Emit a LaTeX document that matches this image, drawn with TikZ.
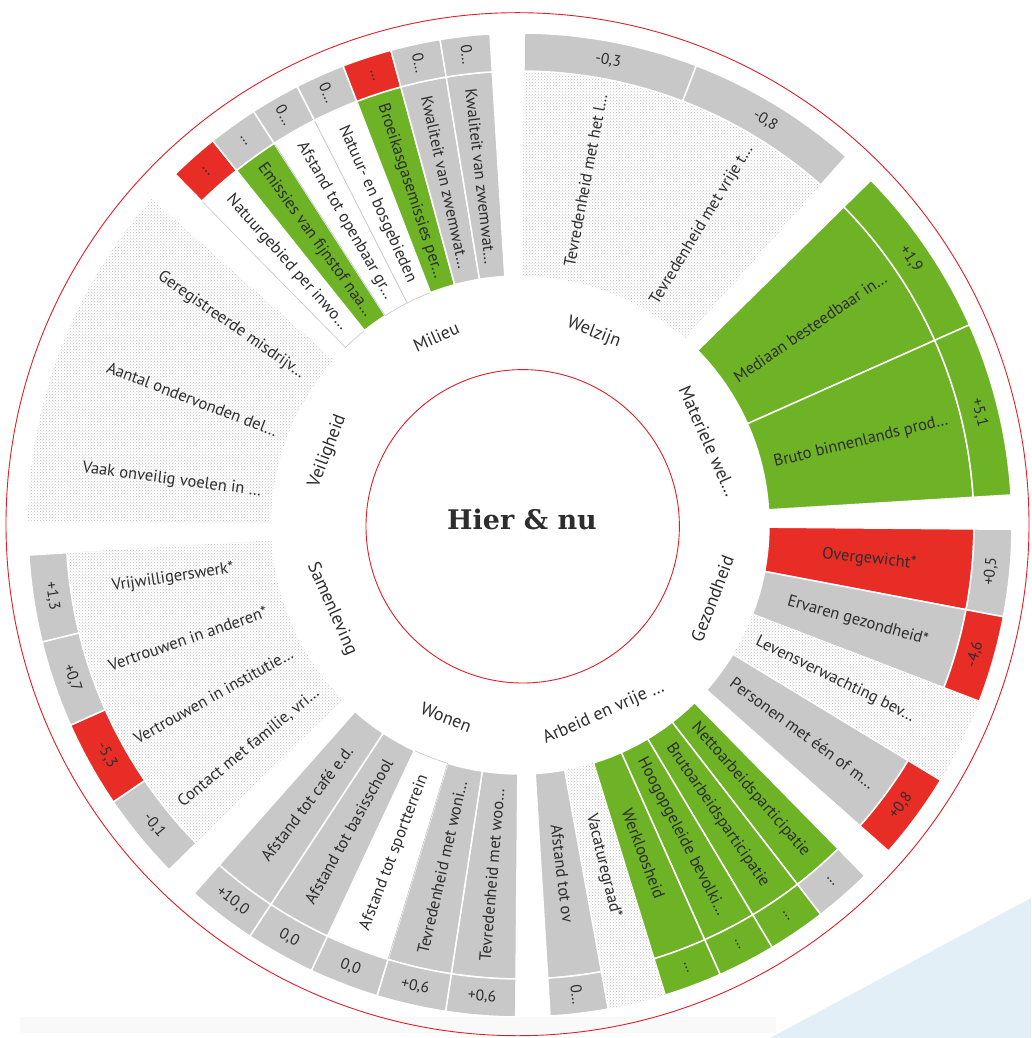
\documentclass[tikz,border=0pt]{standalone}
\usepackage{fontspec}
\setmainfont{PT Sans}
\newfontfamily\titlefont{DejaVu Serif}
\usetikzlibrary{patterns}

\definecolor{cbsgreen}{RGB}{110,178,38}
\definecolor{cbsred}{RGB}{232,45,38}
\definecolor{cbsgrey}{RGB}{200,200,200}
\definecolor{inktext}{RGB}{45,45,45}
\definecolor{ringred}{RGB}{222,30,40}
\definecolor{paleblue}{RGB}{226,239,246}

% piece of a ring: start angle, end angle, inner radius, outer radius
\newcommand\ringpart[4]{(#1:#3pt) arc[start angle=#1, end angle=#2, radius=#3pt]
  -- (#2:#4pt) arc[start angle=#2, end angle=#1, radius=#4pt] -- cycle}

% one theme: key, start angle, bars, name, radial values (1) or not (0), bar list
\newcommand\drawtheme[6]{%
  \pgfmathsetmacro\tw{41/#3}
  \pgfmathsetmacro\tm{#2-20.5}
  \pgfmathsetmacro\tr{sin(\tm)>=0 ? \tm-90 : \tm+90}
  \node[themelabel, rotate=\tr] (#1) at (\tm:206pt) {#4};
  \foreach [count=\i] \bs/\vs/\lab/\val in {#6} {
    \pgfmathsetmacro\aa{#2-(\i-1)*\tw}
    \pgfmathsetmacro\ab{#2-\i*\tw}
    \pgfmathsetmacro\am{(\aa+\ab)/2}
    \pgfmathsetmacro\rl{cos(\am)>=0 ? \am : \am+180}
    \pgfmathsetmacro\rv{#5==1 ? \rl : (sin(\am)>=0 ? \am-90 : \am+90)}
    \path[\bs] \ringpart{\aa}{\ab}{249}{454};
    \path[\vs] \ringpart{\aa}{\ab}{454}{492};
    \node[barlabel, rotate=\rl] (#1-\i) at (\am:351pt) {\lab};
    \node[vallabel, rotate=\rv] (#1-\i-v) at (\am:473pt) {\val};
  }%
}

\begin{document}
\begin{tikzpicture}[x=1pt,y=1pt,
    good/.style={fill=cbsgreen,draw=white,line width=1.5pt},
    bad/.style={fill=cbsred,draw=white,line width=1.5pt},
    neutral/.style={fill=cbsgrey,draw=white,line width=1.5pt},
    blank/.style={fill=white,draw=gray!45,line width=.6pt},
    nodata/.style={pattern=crosshatch dots,pattern color=gray!50},
    barlabel/.style={text=inktext,font=\fontsize{16.5}{19}\selectfont,inner sep=0pt},
    vallabel/.style={text=inktext,font=\fontsize{15.5}{18}\selectfont,inner sep=0pt},
    themelabel/.style={text=inktext,font=\fontsize{18}{21}\selectfont,inner sep=0pt},
    redring/.style={draw=ringred,line width=.9pt}]

  \useasboundingbox (-520,-513) rectangle (511,525);
  \fill[gray!5] (-500,-492) rectangle (256,-508);
  \fill[paleblue] (250,-513) -- (511,-373) -- (511,-513) -- cycle;

  \drawtheme{wel}{89.5}{2}{Welzijn}{0}{
    nodata/neutral/Tevredenheid met het l…/{-0,3},
    nodata/neutral/Tevredenheid met vrije t…/{-0,8}}
  \drawtheme{mat}{44.5}{2}{Materiele wel…}{0}{
    good/good/Mediaan besteedbaar in…/{+1,9},
    good/good/Bruto binnenlands prod…/{+5,1}}
  \drawtheme{gez}{-0.5}{4}{Gezondheid}{0}{
    bad/neutral/Overgewicht*/{+0,5},
    neutral/bad/Ervaren gezondheid*/{-4,6},
    nodata/nodata/Levensverwachting bev…/{},
    neutral/bad/Personen met één of m…/{+0,8}}
  \drawtheme{arb}{-45.5}{6}{Arbeid en vrije …}{1}{
    good/neutral/Nettoarbeidsparticipatie/…,
    good/good/Brutoarbeidsparticipatie/…,
    good/good/Hoogopgeleide bevolki…/…,
    good/good/Werkloosheid/…,
    nodata/nodata/Vacaturegraad*/{},
    neutral/neutral/Afstand tot ov/0…}
  \drawtheme{won}{-90.5}{5}{Wonen}{0}{
    neutral/neutral/Tevredenheid met woo…/{+0,6},
    neutral/neutral/Tevredenheid met woni…/{+0,6},
    blank/neutral/Afstand tot sportterrein/{0,0},
    neutral/neutral/Afstand tot basisschool/{0,0},
    neutral/neutral/Afstand tot café e.d./{+10,0}}
  \drawtheme{sam}{-135.5}{4}{Samenleving}{0}{
    nodata/neutral/{Contact met familie, vri…}/{-0,1},
    nodata/bad/Vertrouwen in institutie…/{-5,3},
    nodata/neutral/Vertrouwen in anderen*/{+0,7},
    nodata/neutral/Vrijwilligerswerk*/{+1,3}}
  \drawtheme{vei}{-180.5}{3}{Veiligheid}{0}{
    nodata/nodata/Vaak onveilig voelen in …/{},
    nodata/nodata/Aantal ondervonden del…/{},
    nodata/nodata/Geregistreerde misdrijv…/{}}
  \drawtheme{mil}{-225.5}{7}{Milieu}{1}{
    blank/bad/Natuurgebied per inwo…/…,
    good/neutral/Emissies van fijnstof naa…/…,
    blank/neutral/Afstand tot openbaar gr…/0…,
    blank/neutral/Natuur- en bosgebieden/0…,
    good/bad/Broeikasgasemissies per…/…,
    neutral/neutral/Kwaliteit van zwemwat…/0…,
    neutral/neutral/Kwaliteit van zwemwat…/0…}

  \draw[redring] (-2.5,0.8) circle[radius=511.5pt];
  \draw[redring] (2.7,-1.3) circle[radius=156.7pt];
  \node[text=inktext,font=\titlefont\bfseries\fontsize{27}{30}\selectfont] (title) at (2,6) {Hier \& nu};
\end{tikzpicture}
\end{document}
